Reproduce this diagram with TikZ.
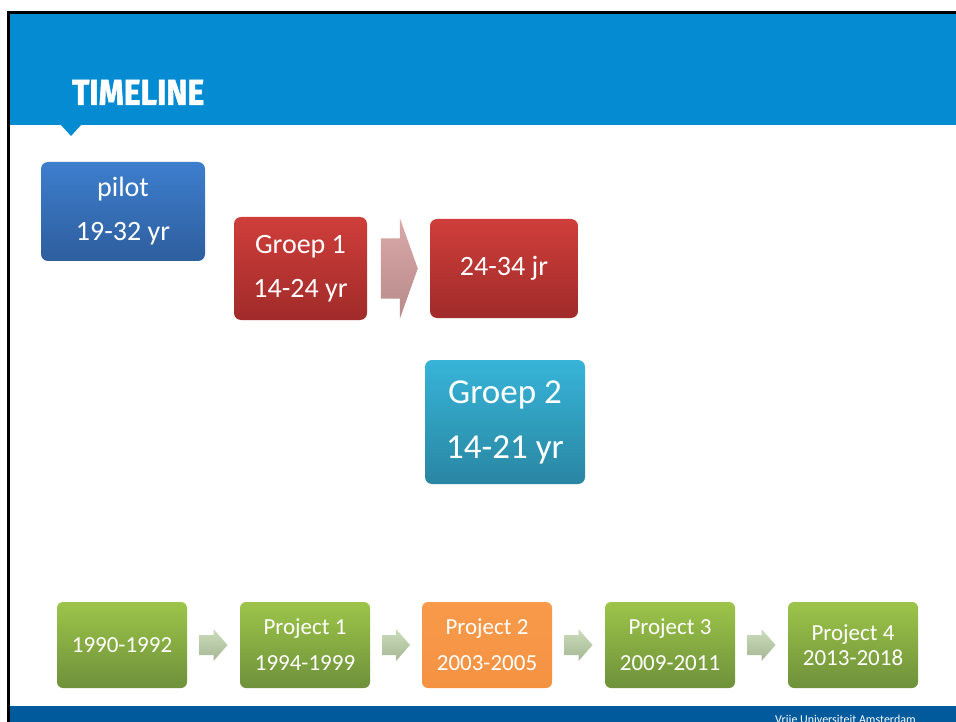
\documentclass[tikz,border=0pt]{standalone}
\usepackage{fontspec}
\setmainfont{Carlito}
\newfontfamily\titlefont{Fira Sans}[BoldFeatures={FakeBold=1.6}]
\usepackage{graphicx}
\usetikzlibrary{calc}
\definecolor{headblue}{RGB}{5,139,210}
\definecolor{footblue}{RGB}{0,90,156}
\definecolor{pilotT}{RGB}{61,126,205}
\definecolor{pilotB}{RGB}{46,94,158}
\definecolor{redT}{RGB}{207,62,58}
\definecolor{redB}{RGB}{160,43,42}
\definecolor{tealT}{RGB}{55,180,216}
\definecolor{tealB}{RGB}{41,134,162}
\definecolor{greenT}{RGB}{157,196,74}
\definecolor{greenB}{RGB}{110,145,58}
\definecolor{orangeT}{RGB}{248,154,74}
\definecolor{orangeB}{RGB}{244,146,66}
\definecolor{bigarT}{RGB}{218,168,168}
\definecolor{bigarB}{RGB}{184,138,138}
\definecolor{smarT}{RGB}{203,221,186}
\definecolor{smarB}{RGB}{164,182,148}
\newcommand\barrow[6]{\shade[#6] ([shift={(-#2,-#4)}]#1) -- ++(#2,0) -- ++(0,#4-#5) -- ++(#3,#5) -- ++(-#3,#5) -- ++(0,#4-#5) -- ++(-#2,0) -- cycle;}
\begin{document}
\begin{tikzpicture}[x=1pt,y=-1pt,
  box/.style={rounded corners=7pt, inner sep=0pt, text=white, align=center,
    font=\fontsize{28}{44}\selectfont},
  redbox/.style={box, top color=redT, bottom color=redB},
  proj/.style={rounded corners=6pt, inner sep=0pt, text=white, align=center,
    minimum width=130pt, minimum height=86pt, font=\fontsize{23}{36}\selectfont},
  greenbox/.style={proj, top color=greenT, bottom color=greenB},
  bigar/.style={top color=bigarT, bottom color=bigarB},
  smar/.style={top color=smarT, bottom color=smarB}]
\useasboundingbox (0,0) rectangle (956,722);
\fill[white] (0,0) rectangle (956,722);
% header
\fill[headblue] (10,14) rectangle (956,125);
\fill[headblue] (60,124) -- (82,124) -- (71,136) -- cycle;
\fill[black] (7,11) rectangle (956,14);
\fill[black] (7,11) rectangle (10,722);
\fill[footblue] (10,706) rectangle (956,722);
\node[anchor=south west, inner sep=0pt, text=white] (title) at (72,105)
  {\titlefont\bfseries\resizebox{132pt}{25pt}{TIMELINE}};
% upper boxes
\node[box, top color=pilotT, bottom color=pilotB, minimum width=164pt, minimum height=99pt]
  (pilot) at (123,211.5) {pilot\\19-32 yr};
\node[redbox, minimum width=133pt, minimum height=103pt] (g1) at (300.5,268.5) {Groep 1\\14-24 yr};
\node[redbox, minimum width=148pt, minimum height=99pt] (jr) at (504,268.5) {24-34 jr};
\node[box, top color=tealT, bottom color=tealB, minimum width=160pt, minimum height=124pt,
  font=\fontsize{35}{55}\selectfont] (g2) at (505,422) {Groep 2\\14-21 yr};
\coordinate (a0) at ($(g1.east)!0.52!(jr.west)$);
\barrow{a0}{19}{18}{30}{50.5}{bigar}
% bottom row
\node[greenbox] (p0) at (122,645) {1990-1992};
\node[greenbox] (p1) at (305,645) {Project 1\\1994-1999};
\node[proj, top color=orangeT, bottom color=orangeB] (p2) at (487,645) {Project 2\\2003-2005};
\node[greenbox] (p3) at (670,645) {Project 3\\2009-2011};
\node[greenbox, font=\fontsize{23}{25}\selectfont] (p4) at (853,645) {Project 4\\2013-2018};
\coordinate (s1) at ($(p0.east)!0.5!(p1.west)$);
\coordinate (s2) at ($(p1.east)!0.5!(p2.west)$);
\coordinate (s3) at ($(p2.east)!0.5!(p3.west)$);
\coordinate (s4) at ($(p3.east)!0.5!(p4.west)$);
\barrow{s1}{14}{14}{10}{16}{smar}
\barrow{s2}{14}{14}{10}{16}{smar}
\barrow{s3}{14}{14}{10}{16}{smar}
\barrow{s4}{14}{14}{10}{16}{smar}
% footer
\node[anchor=base west, inner sep=0pt, text=white, font=\fontsize{12}{14}\selectfont]
  (foot) at (775,723) {Vrije Universiteit Amsterdam};
\end{tikzpicture}
\end{document}
